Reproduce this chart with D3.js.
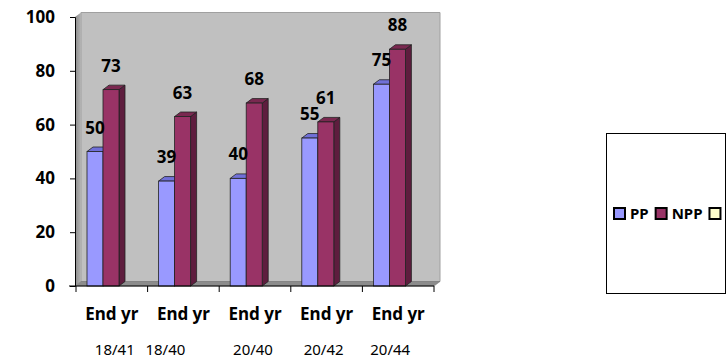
<!DOCTYPE html>
<html>
<head>
<meta charset="utf-8">
<script src="https://d3js.org/d3.v7.min.js"></script>
<style>
body {margin:0; background:white;}
text {font-family:"Noto Sans", sans-serif;}
</style>
</head>
<body>
<svg width="726" height="364"></svg>
<script>
// chart data
var categories = ["End yr", "End yr", "End yr", "End yr", "End yr"];
var subLabels = ["18/41", "18/40", "20/40", "20/42", "20/44"];
var seriesNames = ["PP", "NPP", ""];
var ppValues = [50, 39, 40, 55, 75];
var nppValues = [73, 63, 68, 61, 88];
var blankValues = [null, null, null, null, null];
var yTicks = [0, 20, 40, 60, 80, 100];

var seriesValues = [ppValues, nppValues, blankValues];
var front = ["#9999ff", "#993366", "#ffffcc"];
var topFace = ["#7070d8", "#7a2850", "#e0e0b0"];
var sideFace = ["#6060b8", "#5e1d3e", "#c0c090"];

var svg = d3.select("svg");
var plotL = 76, plotR = 434, plotB = 286, plotT = 17;
var dx = 6, dy = -4.5;

var x = d3.scaleBand().domain(d3.range(categories.length)).range([plotL, plotR]);
var x1 = d3.scaleBand().domain(seriesNames).range([11, 59]);
var y = d3.scaleLinear().domain([0, 100]).range([plotB, plotT]);

// walls
var defs = svg.append("defs");
var grad = defs.append("linearGradient").attr("id", "side");
grad.append("stop").attr("offset", "0%").attr("stop-color", "#8a8a8a");
grad.append("stop").attr("offset", "100%").attr("stop-color", "#b4b4b4");

svg.append("polygon")
  .attr("points", [[plotL-1+dx, plotT+dy], [plotR+dx, plotT+dy], [plotR+dx, plotB+dy], [plotL-1+dx, plotB+dy]].join(" "))
  .attr("fill", "#c0c0c0").attr("stroke", "#a0a0a0").attr("stroke-width", 1);
svg.append("polygon")
  .attr("points", [[plotL-1, plotT], [plotL-1+dx, plotT+dy], [plotL-1+dx, plotB+dy], [plotL-1, plotB]].join(" "))
  .attr("fill", "url(#side)");
svg.append("polygon")
  .attr("points", [[plotL-1, plotB], [plotL-1+dx, plotB+dy], [plotR+dx, plotB+dy], [plotR, plotB]].join(" "))
  .attr("fill", "#8c8c8c").attr("stroke", "#7a7a7a").attr("stroke-width", 0.6);

// bars
seriesNames.forEach(function(s, si) {
  var vals = seriesValues[si];
  var g = svg.append("g");
  vals.forEach(function(v, i) {
    if (v == null) return;
    var x0 = x(i) + x1(s), w = x1.bandwidth(), yt = y(v);
    g.append("polygon")
      .attr("points", [[x0+w, yt], [x0+w+dx, yt+dy], [x0+w+dx, plotB+dy], [x0+w, plotB]].join(" "))
      .attr("fill", sideFace[si]).attr("stroke", "#222").attr("stroke-width", 0.8);
    g.append("polygon")
      .attr("points", [[x0, yt], [x0+dx, yt+dy], [x0+w+dx, yt+dy], [x0+w, yt]].join(" "))
      .attr("fill", topFace[si]).attr("stroke", "#222").attr("stroke-width", 0.8);
    g.append("rect")
      .attr("x", x0).attr("y", yt).attr("width", w).attr("height", plotB - yt)
      .attr("fill", front[si]).attr("stroke", "#222").attr("stroke-width", 0.8);
  });
});

// value labels
seriesNames.forEach(function(s, si) {
  seriesValues[si].forEach(function(v, i) {
    if (v == null) return;
    svg.append("text")
      .attr("x", x(i) + x1(s) + x1.bandwidth() / 2)
      .attr("y", y(v) - 18)
      .attr("text-anchor", "middle")
      .style("font-size", "17px").style("font-weight", "bold")
      .text(v);
  });
});

// y axis
var yAxis = svg.append("g")
  .attr("transform", "translate(" + (plotL - 1) + ",0)")
  .call(d3.axisLeft(y).tickValues(yTicks).tickSize(5).tickPadding(15));
yAxis.select(".domain").attr("stroke", "#000");
yAxis.selectAll("line").attr("stroke", "#000");
yAxis.selectAll("text")
  .style("font-family", "'Noto Sans', sans-serif")
  .style("font-size", "17px").style("font-weight", "bold").attr("fill", "#000");

// x axis
svg.append("line")
  .attr("x1", plotL - 7).attr("x2", plotR)
  .attr("y1", plotB).attr("y2", plotB)
  .attr("stroke", "#000");
svg.selectAll(".xtick")
  .data(d3.range(categories.length + 1))
  .enter().append("line")
  .attr("x1", function(d) { return plotL + d * x.step(); })
  .attr("x2", function(d) { return plotL + d * x.step(); })
  .attr("y1", plotB).attr("y2", plotB + 6)
  .attr("stroke", "#000");

svg.selectAll(".cat")
  .data(categories)
  .enter().append("text")
  .attr("x", function(d, i) { return x(i) + x.bandwidth() / 2; })
  .attr("y", 320)
  .attr("text-anchor", "middle")
  .style("font-size", "17px").style("font-weight", "bold")
  .text(function(d) { return d; });

// second line labels sit a little off centre in the original
var subShift = [3, -18, -2, -3, -8];
svg.selectAll(".sub")
  .data(subLabels)
  .enter().append("text")
  .attr("x", function(d, i) { return x(i) + x.bandwidth() / 2 + subShift[i]; })
  .attr("y", 355)
  .attr("text-anchor", "middle")
  .style("font-size", "15px")
  .text(function(d) { return d; });

// legend
svg.append("rect")
  .attr("x", 606.5).attr("y", 133.5).attr("width", 119).attr("height", 160)
  .attr("fill", "white").attr("stroke", "#000");
var lx = 614;
seriesNames.forEach(function(s, si) {
  svg.append("rect")
    .attr("x", lx).attr("y", 208).attr("width", 11).attr("height", 11)
    .attr("fill", front[si]).attr("stroke", "#000").attr("stroke-width", 2);
  lx += 16;
  if (s) {
    var t = svg.append("text")
      .attr("x", lx).attr("y", 219)
      .style("font-size", "15px").style("font-weight", "bold")
      .text(s);
    lx += t.node().getComputedTextLength() + 7;
  }
});
</script>
</body>
</html>
